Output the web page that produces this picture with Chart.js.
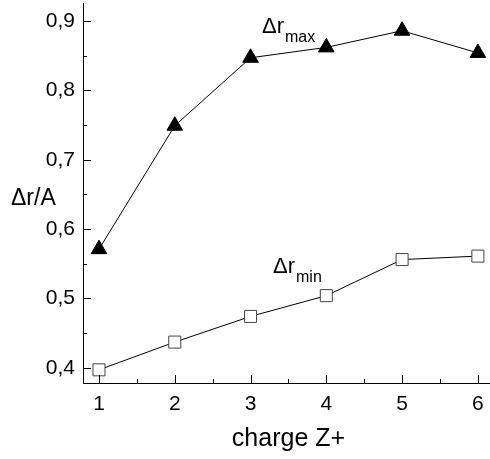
<!DOCTYPE html>
<html lang="en">
<head>
  <meta charset="UTF-8">
  <title>Δr vs charge</title>
  <script src="https://cdn.jsdelivr.net/npm/chart.js"></script>
  <style>
    body {
      margin: 0;
      background: #fff;
    }
    canvas {
      display: block;
    }
  </style>
</head>
<body>

  <canvas id="chart" width="490" height="459"></canvas>

  <script>
    // data
    const charges = [1, 2, 3, 4, 5, 6];
    const drMax = [0.571, 0.749, 0.847, 0.862, 0.886, 0.854];
    const drMin = [0.397, 0.437, 0.474, 0.504, 0.556, 0.561];

    const xTicks = [1, 2, 3, 4, 5, 6];
    const xMinor = [1.5, 2.5, 3.5, 4.5, 5.5];
    const yTicks = [0.4, 0.5, 0.6, 0.7, 0.8, 0.9];
    const yMinor = [0.45, 0.55, 0.65, 0.75, 0.85];

    const FONT = "'Liberation Sans', Arial, sans-serif";

    const toPoints = (ys) => charges.map((x, i) => ({ x: x, y: ys[i] }));

    // inward tick marks, axis labels and the two series labels
    const decor = {
      id: 'decor',
      afterDraw(chart) {
        const ctx = chart.ctx;
        const xs = chart.scales.x, ys = chart.scales.y;
        const area = chart.chartArea;
        ctx.save();
        ctx.strokeStyle = '#000';
        ctx.lineWidth = 1;
        ctx.beginPath();
        yTicks.forEach(v => {
          const p = Math.round(ys.getPixelForValue(v)) + 0.5;
          ctx.moveTo(area.left, p); ctx.lineTo(area.left + 8, p);
        });
        yMinor.forEach(v => {
          const p = Math.round(ys.getPixelForValue(v)) + 0.5;
          ctx.moveTo(area.left, p); ctx.lineTo(area.left + 4, p);
        });
        xTicks.forEach(v => {
          const p = Math.round(xs.getPixelForValue(v)) + 0.5;
          ctx.moveTo(p, area.bottom); ctx.lineTo(p, area.bottom - 8);
        });
        xMinor.forEach(v => {
          const p = Math.round(xs.getPixelForValue(v)) + 0.5;
          ctx.moveTo(p, area.bottom); ctx.lineTo(p, area.bottom - 4);
        });
        ctx.stroke();

        ctx.fillStyle = '#000';
        ctx.textBaseline = 'alphabetic';
        ctx.textAlign = 'left';
        ctx.font = '23px ' + FONT;
        ctx.fillText('Δr/A', 11, 205);

        ctx.textAlign = 'center';
        ctx.font = '25px ' + FONT;
        ctx.fillText('charge Z+', (area.left + area.right) / 2 + 2, 446);

        const sub = (main, s, x, y) => {
          ctx.textAlign = 'left';
          ctx.font = '22px ' + FONT;
          ctx.fillText(main, x, y);
          const w = ctx.measureText(main).width;
          ctx.font = '16px ' + FONT;
          ctx.fillText(s, x + w + 1, y + 9);
        };
        sub('Δr', 'max', 262, 33);
        sub('Δr', 'min', 273, 273);
        ctx.restore();
      }
    };

    new Chart(document.getElementById('chart'), {
      type: 'line',
      data: {
        datasets: [{
          label: 'Δr max',
          data: toPoints(drMax),
          borderColor: '#000',
          borderWidth: 1,
          pointStyle: 'triangle',
          pointRadius: 9,
          pointBackgroundColor: '#000',
          pointBorderColor: '#000',
          pointBorderWidth: 1,
          tension: 0
        }, {
          label: 'Δr min',
          data: toPoints(drMin),
          borderColor: '#000',
          borderWidth: 1,
          pointStyle: 'rect',
          pointRadius: 8.5,
          pointBackgroundColor: '#fff',
          pointBorderColor: '#444',
          pointBorderWidth: 1,
          tension: 0
        }]
      },
      options: {
        responsive: false,
        animation: false,
        layout: { autoPadding: false, padding: { top: 3, right: 0, left: 0, bottom: 0 } },
        plugins: {
          legend: { display: false },
          tooltip: { enabled: false }
        },
        scales: {
          x: {
            type: 'linear',
            min: 0.789,
            max: 6.16,
            afterFit(s) { s.height = 76; s.paddingLeft = 0; s.paddingRight = 0; },
            afterBuildTicks(s) { s.ticks = xTicks.map(v => ({ value: v })); },
            grid: { drawOnChartArea: false, drawTicks: false },
            border: { display: true, color: '#000', width: 1 },
            ticks: {
              color: '#000',
              padding: 9,
              font: { family: FONT, size: 21 },
              callback: v => String(v)
            }
          },
          y: {
            min: 0.378,
            max: 0.926,
            afterFit(s) { s.width = 83; s.paddingTop = 0; s.paddingBottom = 0; },
            afterBuildTicks(s) { s.ticks = yTicks.map(v => ({ value: v })); },
            grid: { drawOnChartArea: false, drawTicks: false },
            border: { display: true, color: '#000', width: 1 },
            ticks: {
              color: '#000',
              padding: 8,
              font: { family: FONT, size: 21 },
              callback: v => v.toFixed(1).replace('.', ',')
            }
          }
        }
      },
      plugins: [decor]
    });
  </script>

</body>
</html>
